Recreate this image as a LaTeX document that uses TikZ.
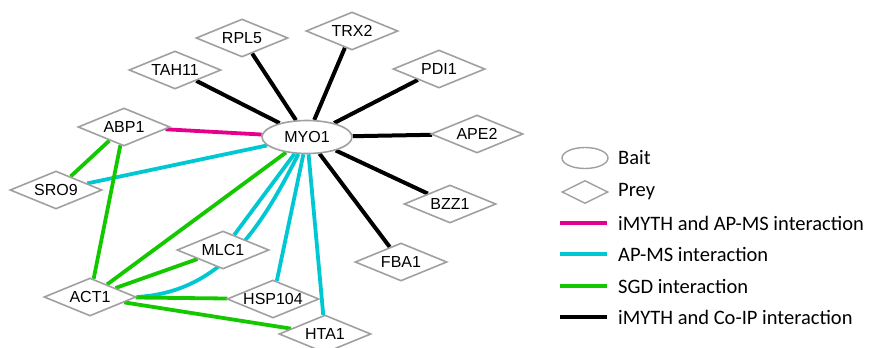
\documentclass[tikz,border=0pt]{standalone}
\usepackage{fontspec}
\setmainfont{Liberation Sans}
\newfontfamily\legfont{Carlito}
\usetikzlibrary{shapes.geometric,backgrounds}
\definecolor{nodegray}{RGB}{160,160,160}
\definecolor{magline}{RGB}{228,0,140}
\definecolor{cyanline}{RGB}{0,200,210}
\definecolor{greenline}{RGB}{20,200,0}
\tikzset{
  prey/.style={diamond, draw=nodegray, line width=1.6pt, fill=white, aspect=2.4,
    minimum width=92pt, minimum height=38pt, inner sep=0pt,
    font=\fontsize{16}{16}\selectfont},
  bait/.style={ellipse, draw=nodegray, line width=1.6pt, fill=white,
    minimum width=90pt, minimum height=33pt, inner sep=0pt,
    font=\fontsize{16}{16}\selectfont},
  blk/.style={draw=black, line width=4pt},
  mag/.style={draw=magline, line width=3.8pt},
  cyn/.style={draw=cyanline, line width=3.8pt},
  grn/.style={draw=greenline, line width=3.8pt},
  legtext/.style={anchor=west, inner sep=0pt, font=\legfont\fontsize{20.5}{20.5}\selectfont},
  legprey/.style={diamond, draw=nodegray, line width=1.4pt, aspect=2.2,
    minimum width=46pt, minimum height=23pt, inner sep=0pt},
  legbait/.style={ellipse, draw=nodegray, line width=1.4pt,
    minimum width=46pt, minimum height=21pt, inner sep=0pt},
}
\begin{document}
\begin{tikzpicture}[x=1pt,y=-1pt]
\useasboundingbox (0,0) rectangle (870,348);
% nodes
\node[bait] (MYO1) at (307,137) {MYO1};
\node[prey] (TAH11) at (175,70) {TAH11};
\node[prey] (RPL5) at (242,38) {RPL5};
\node[prey] (TRX2) at (352,31) {TRX2};
\node[prey] (PDI1) at (439,69) {PDI1};
\node[prey] (APE2) at (477,134) {APE2};
\node[prey] (BZZ1) at (450,204) {BZZ1};
\node[prey] (FBA1) at (401,262) {FBA1};
\node[prey] (HTA1) at (325,334) {HTA1};
\node[prey] (HSP104) at (273,299) {HSP104};
\node[prey] (MLC1) at (223,250) {MLC1};
\node[prey] (ACT1) at (90,297) {ACT1};
\node[prey] (SRO9) at (56,190) {SRO9};
\node[prey] (ABP1) at (124,127) {ABP1};
% edges
\begin{scope}[on background layer]
\foreach \t in {TAH11,RPL5,TRX2,PDI1,APE2,BZZ1,FBA1}
  \draw[blk] (MYO1) -- (\t);
\draw[mag] (ABP1) -- (MYO1);
\draw[cyn] (MYO1) -- (SRO9);
\draw[cyn] (MYO1) -- (MLC1);
\draw[cyn] (MYO1) -- (HSP104);
\draw[cyn] (MYO1) -- (HTA1);
\draw[cyn] (MYO1) .. controls (260,230) and (220,292) .. (ACT1.east);
\draw[grn] (ABP1) -- (SRO9);
\draw[grn] (ABP1) -- (ACT1);
\draw[grn] (ACT1) -- (MYO1);
\draw[grn] (ACT1) -- (MLC1);
\draw[grn] (ACT1) -- (HSP104);
\draw[grn] (ACT1) -- (HTA1);
\end{scope}
% legend
\node[legbait] (Lbait) at (585,158) {};
\node[legtext] (Tbait) at (618,158) {Bait};
\node[legprey] (Lprey) at (585,192) {};
\node[legtext] (Tprey) at (618,192) {Prey};
\coordinate (m1) at (560,223); \coordinate (m2) at (607,223);
\coordinate (c1) at (560,254); \coordinate (c2) at (607,254);
\coordinate (g1) at (560,286); \coordinate (g2) at (607,286);
\coordinate (k1) at (560,317); \coordinate (k2) at (607,317);
\draw[mag,line width=3.4pt] (m1) -- (m2);
\draw[cyn,line width=3.4pt] (c1) -- (c2);
\draw[grn,line width=3.4pt] (g1) -- (g2);
\draw[blk,line width=3.4pt] (k1) -- (k2);
\node[legtext] (Tm) at (618,223) {iMYTH and AP-MS interaction};
\node[legtext] (Tc) at (618,254) {AP-MS interaction};
\node[legtext] (Tg) at (618,286) {SGD interaction};
\node[legtext] (Tk) at (618,317) {iMYTH and Co-IP interaction};
\end{tikzpicture}
\end{document}
